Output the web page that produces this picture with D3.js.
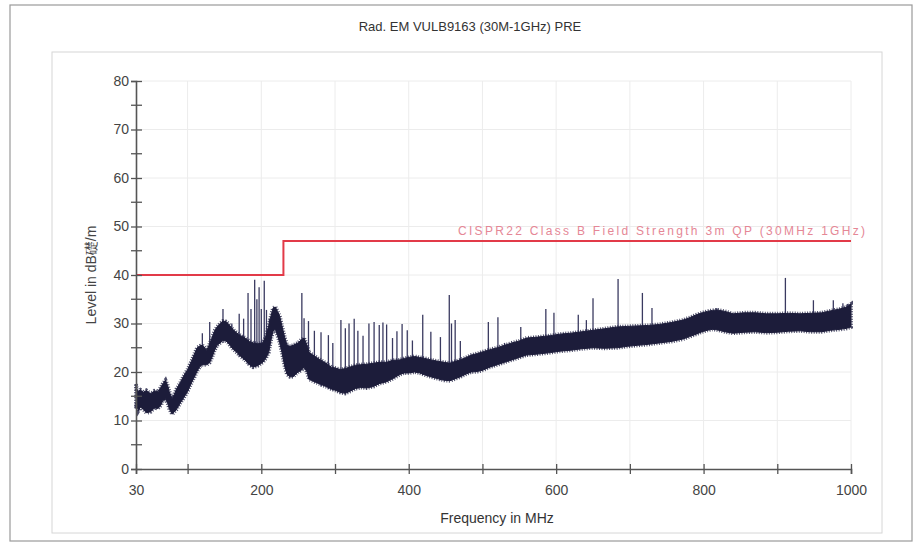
<!DOCTYPE html>
<html>
<head>
<meta charset="utf-8">
<script src="https://cdn.jsdelivr.net/npm/d3@7"></script>
<style>
  body { margin: 0; background: #fff; }
  svg { display: block; }
  text { font-family: "Liberation Sans", Arial, sans-serif; }
</style>
</head>
<body>
<svg width="920" height="551"></svg>
<script>
// ---- data ----
var title = "Rad. EM VULB9163 (30M-1GHz) PRE";
var xTicks = [30, 100, 200, 300, 400, 500, 600, 700, 800, 900, 1000];
var xLabels = [30, 200, 400, 600, 800, 1000];
var yTicks = [0, 10, 20, 30, 40, 50, 60, 70, 80];
var yMinor = [5, 15, 25, 35, 45, 55, 65, 75];

// limit line (MHz, dB)
var limitFreq = [30, 230, 1000];
var limitLevel = [40, 47, 47];
var limitName = "CISPR22 Class B Field Strength 3m QP (30MHz 1GHz)";

// noise floor envelope: frequency, lower edge, upper edge
var bandFreq = [30, 31, 33, 36, 40, 44, 50, 55, 60, 64, 66, 70, 73, 75, 79, 82, 85, 90, 94, 100,
  106, 110, 113, 117, 120, 126, 130, 133, 137, 140, 144, 148, 152, 155, 160, 167, 172, 178, 184, 189,
  195, 202, 206, 210, 213, 216, 219, 222, 225, 228, 232, 235, 239, 243, 247, 250, 254, 258, 262, 265,
  272, 280, 288, 295, 301, 307, 314, 320, 328, 335, 343, 352, 360, 370, 378, 388, 394, 400, 408, 415,
  422, 430, 440, 448, 456, 463, 470, 478, 485, 493, 501, 510, 520, 530, 540, 550, 560, 575, 592, 605,
  620, 635, 650, 665, 683, 697, 710, 725, 740, 756, 772, 781, 790, 798, 805, 812, 818, 829, 840, 855,
  870, 885, 900, 915, 931, 945, 960, 972, 985, 994, 1000];
var bandLow = [12.5, 13.5, 12, 12.8, 12.3, 11.6, 11.8, 12.6, 12.5, 13.2, 14, 14.5, 13.6, 12.5, 11.3, 11.8, 12.3, 13.6, 14.5, 16,
  18, 19.2, 20.2, 21.2, 21.5, 21.5, 22, 23, 24.6, 25.5, 26, 26.5, 26.4, 26, 25, 24, 23.2, 22.5, 21.5, 21,
  21.3, 22, 22.8, 24, 26.5, 28.5, 28.8, 27.5, 26, 24, 21, 19.5, 19, 19, 19.6, 20, 20.3, 21, 20, 18.5,
  18, 17.5, 17, 16.5, 16.2, 15.8, 15.6, 16, 16.6, 16.8, 16.7, 17, 17.6, 18, 18.6, 19.5, 19.8, 19.8, 20, 19.8,
  19.4, 19, 18.6, 18.3, 18.2, 18.6, 19, 19.6, 20, 20.1, 20.4, 21, 21.5, 22, 22.5, 23, 23.5, 23.7, 24, 24.3,
  24.5, 24.8, 25, 24.9, 25, 25.3, 25.5, 25.7, 26, 26.3, 26.8, 27.3, 27.8, 28.3, 28.6, 28.8, 28.7, 28.3, 28, 28.2,
  28.3, 28.1, 28.2, 28.4, 28.5, 28.3, 28.3, 28.6, 28.8, 29, 29.3];
var bandHigh = [17.5, 16.4, 16, 16.3, 15.8, 16.2, 15.5, 16.1, 16, 16.9, 17.5, 18.3, 17.2, 16, 14.5, 15.4, 16.5, 17.8, 19, 20.5,
  22.5, 24, 25, 25.4, 25.5, 24.5, 25.8, 27, 28.6, 29.3, 30, 30.5, 30.4, 30, 29, 28, 27.5, 27, 26.3, 26,
  25.8, 26, 27.3, 29.5, 31.5, 33.2, 33.4, 32.5, 31.5, 29.5, 27, 25.5, 25.3, 25.5, 25.8, 26, 26.6, 27, 25.5, 24,
  23.3, 22.5, 21.8, 21, 20.8, 20.5, 20.7, 21, 21.4, 21.5, 21.6, 21.8, 22, 22, 22.4, 22.5, 22.8, 23, 23.2, 23,
  22.8, 22.5, 22.2, 22, 21.8, 22.2, 22.5, 23, 23.5, 23.8, 24.2, 24.6, 25, 25.5, 26, 26.4, 27, 27.2, 27.5, 27.8,
  28, 28.3, 28.6, 28.9, 29.3, 29.4, 29.5, 29.6, 29.8, 30.2, 30.7, 31.2, 31.8, 32.2, 32.5, 32.7, 32.8, 32.5, 32, 32.2,
  32.2, 32, 32, 32.1, 32, 32.1, 32.2, 32.6, 33, 33.4, 34];

// narrow-band peaks: frequency, peak level
var spikeFreq = [120, 130, 148, 160, 170, 176, 182, 186, 191, 194, 197, 200, 204, 207, 211,
  255, 258, 264, 272, 281, 291, 297, 308, 314, 319, 326, 331, 338, 346, 353, 360, 365, 370, 378,
  384, 391, 398, 405, 419, 430, 443, 455, 458, 463, 470, 508, 521, 530, 552, 586, 597, 610, 630, 641,
  650, 684, 717, 730, 760, 818, 911, 949, 976, 989, 995];
var spikePeak = [28, 30.3, 33, 30, 32, 31, 36.3, 33, 39, 35, 37.5, 33, 38.8, 32.8, 31,
  36.3, 31.1, 30.5, 28.5, 28.2, 27.6, 26, 30.7, 29, 30, 31, 28.5, 27.5, 30, 30.3, 29.7, 30.2, 29.8, 27,
  28.4, 29.9, 28.6, 26.5, 31.8, 28.3, 27.2, 35.9, 30, 30.7, 26.4, 30.3, 31.3, 26, 29.3, 33, 32.2, 28, 31.8, 30.7,
  35.2, 39.2, 36.3, 33.2, 30, 33.2, 39.4, 34.8, 34.8, 34.2, 34];

var svg = d3.select("svg");

var x = d3.scaleLinear().domain([30, 1000]).range([136, 851]);
var y = d3.scaleLinear().domain([0, 80]).range([469, 81]);

// frames
svg.append("rect").attr("x", 10).attr("y", 5).attr("width", 902).attr("height", 536)
  .attr("fill", "none").attr("stroke", "#9a9a9a").attr("stroke-width", 1.2);
svg.append("rect").attr("x", 52).attr("y", 52).attr("width", 830).attr("height", 481)
  .attr("fill", "none").attr("stroke", "#d6d6d6").attr("stroke-width", 1);

svg.append("text").attr("x", 470).attr("y", 31).attr("text-anchor", "middle")
  .attr("font-size", 13).attr("fill", "#333").text(title);

// grid
var grid = svg.append("g").attr("stroke", "#ececec").attr("stroke-width", 1);
grid.selectAll(".gx").data(xTicks.slice(1)).enter().append("line")
  .attr("x1", d => x(d)).attr("x2", d => x(d)).attr("y1", y(80)).attr("y2", y(0));
grid.selectAll(".gy").data(yTicks.slice(1)).enter().append("line")
  .attr("x1", x(30)).attr("x2", x(1000)).attr("y1", d => y(d)).attr("y2", d => y(d));

// limit line
var limitPts = limitFreq.map((f, i) => [f, limitLevel[i]]);
svg.append("path").datum(limitPts)
  .attr("d", d3.line().x(d => x(d[0])).y(d => y(d[1])).curve(d3.curveStepAfter))
  .attr("fill", "none").attr("stroke", "#e23a48").attr("stroke-width", 2);
svg.append("text").attr("x", 865).attr("y", 235).attr("text-anchor", "end")
  .attr("font-family", "'Liberation Serif', serif").attr("font-size", 12)
  .attr("textLength", 407).attr("lengthAdjust", "spacing")
  .attr("fill", "#e58796").text(limitName);

// spikes
var bis = d3.bisector(d => d).left;
function baseAt(f) {
  var i = Math.min(bis(bandFreq, f), bandFreq.length - 1);
  return bandLow[i];
}
svg.append("g").selectAll("line").data(spikeFreq).enter().append("line")
  .attr("x1", d => x(d)).attr("x2", d => x(d))
  .attr("y1", (d, i) => y(spikePeak[i])).attr("y2", d => y(baseAt(d)))
  .attr("stroke", "#3a3a60").attr("stroke-width", 1.3);

// noise band: solid core plus a dashed outline that gives it the ragged edge
var band = bandFreq.map((f, i) => ({f: f, lo: bandLow[i], hi: bandHigh[i]}));
var area = d3.area().x(d => x(d.f)).y0(d => y(d.lo)).y1(d => y(d.hi));
svg.append("path").datum(band).attr("d", area)
  .attr("fill", "none").attr("stroke", "#2a2a4c").attr("stroke-width", 4)
  .attr("stroke-dasharray", "1 1.5").attr("stroke-opacity", 0.85);
svg.append("path").datum(band).attr("d", area)
  .attr("fill", "#1c1c3a").attr("stroke", "#1c1c3a").attr("stroke-width", 1)
  .attr("stroke-linejoin", "round");

// axes
var xAxis = svg.append("g").attr("transform", "translate(0," + y(0) + ")")
  .call(d3.axisBottom(x).tickValues(xTicks).tickSize(5)
    .tickFormat(d => xLabels.indexOf(d) >= 0 ? d : ""));
xAxis.select(".domain").attr("stroke", "#555").attr("stroke-width", 1.6);
xAxis.selectAll(".tick line").attr("y1", -5).attr("y2", 5).attr("stroke", "#555").attr("stroke-width", 1.3);
xAxis.selectAll(".tick text").attr("y", 16).attr("font-size", 14)
  .attr("font-family", "'Liberation Sans', Arial, sans-serif").attr("fill", "#444");

var yAxis = svg.append("g").attr("transform", "translate(" + x(30) + ",0)")
  .call(d3.axisLeft(y).tickValues(yTicks).tickSize(5));
yAxis.select(".domain").attr("stroke", "#555").attr("stroke-width", 1.6);
yAxis.selectAll(".tick line").attr("x1", -5).attr("x2", 6).attr("stroke", "#555").attr("stroke-width", 1.3);
yAxis.selectAll(".tick text").attr("x", -7).attr("font-size", 14)
  .attr("font-family", "'Liberation Sans', Arial, sans-serif").attr("fill", "#444");
svg.append("g").selectAll("line").data(yMinor).enter().append("line")
  .attr("x1", x(30) - 5).attr("x2", x(30) + 6).attr("y1", d => y(d)).attr("y2", d => y(d))
  .attr("stroke", "#555").attr("stroke-width", 1.3);

svg.append("text").attr("x", 497).attr("y", 523).attr("text-anchor", "middle")
  .attr("font-size", 14).attr("fill", "#333").text("Frequency in MHz");
svg.append("text").attr("transform", "translate(96,275) rotate(-90)").attr("text-anchor", "middle")
  .attr("font-size", 14).attr("fill", "#444").text("Level in dB礎/m");
</script>
</body>
</html>
